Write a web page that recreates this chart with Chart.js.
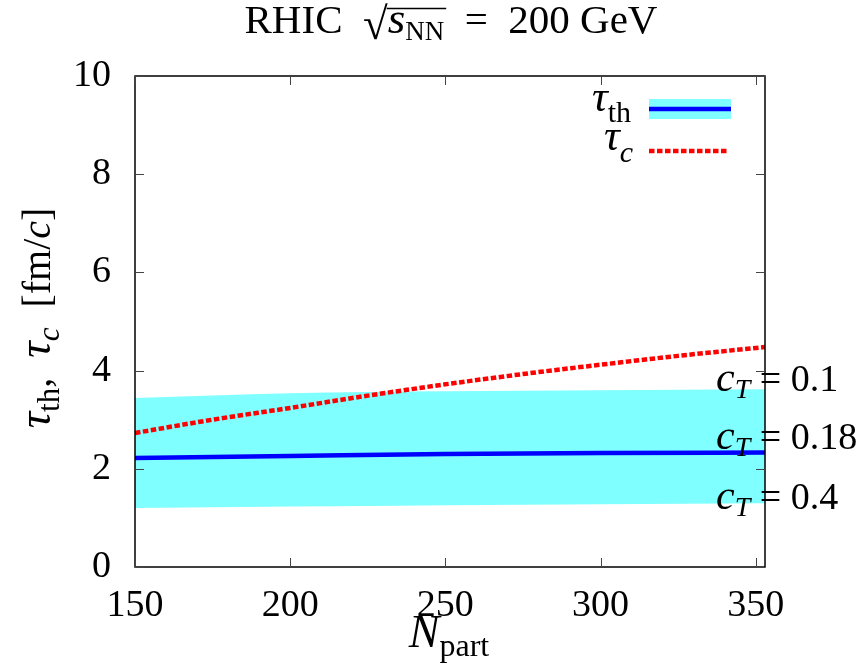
<!DOCTYPE html>
<html>
<head>
<meta charset="utf-8">
<script src="https://cdn.jsdelivr.net/npm/chart.js@4"></script>
<style>
  body { margin: 0; background: #fff; }
  #wrap { width: 862px; height: 663px; }
</style>
</head>
<body>
<div id="wrap"><canvas id="chart" width="862" height="663"></canvas></div>
<script>
// values
const nPart = [150, 200, 250, 300, 353];
const tauThLow = [1.20, 1.23, 1.26, 1.28, 1.30];   // c_T = 0.4
const tauThHigh = [3.44, 3.54, 3.58, 3.60, 3.62];  // c_T = 0.1
const tauTh = [2.22, 2.26, 2.30, 2.32, 2.33];      // c_T = 0.18
const nPartC = [150, 175, 200, 225, 250, 275, 300, 325, 353];
const tauC = [2.73, 3.00, 3.24, 3.49, 3.72, 3.93, 4.12, 4.30, 4.48];
const xTicks = [150, 200, 250, 300, 350];
const yTicks = [0, 2, 4, 6, 8, 10];
const cTValues = ["0.1", "0.18", "0.4"];

const SERIF = '"Liberation Serif", "DejaVu Serif", serif';
const CYAN = "#7fffff";
const pts = (xs, ys) => xs.map((x, i) => ({ x: x, y: ys[i] }));

// draw a row of text pieces: [text, fontSize, italic, dy]
function drawRich(ctx, parts, x, y, align) {
  let w = 0;
  parts.forEach(p => {
    ctx.font = (p[2] ? "italic " : "") + p[1] + "px " + SERIF;
    w += ctx.measureText(p[0]).width;
  });
  let cx = align === "center" ? x - w / 2 : align === "right" ? x - w : x;
  const xs = [];
  parts.forEach(p => {
    ctx.font = (p[2] ? "italic " : "") + p[1] + "px " + SERIF;
    xs.push(cx);
    ctx.fillText(p[0], cx, y + (p[3] || 0));
    cx += ctx.measureText(p[0]).width;
  });
  xs.push(cx);
  return xs;
}

const decor = {
  id: "decor",
  afterDraw(chart) {
    const ctx = chart.ctx;
    const a = chart.chartArea;
    const xs = chart.scales.x, ys = chart.scales.y;
    ctx.save();
    ctx.strokeStyle = "#000";
    ctx.fillStyle = "#000";
    ctx.lineWidth = 1.5;
    ctx.strokeRect(a.left, a.top, a.right - a.left, a.bottom - a.top);
    ctx.lineWidth = 1;
    ctx.strokeStyle = "#444";
    ctx.beginPath();
    xTicks.forEach(v => {
      const px = Math.round(xs.getPixelForValue(v)) + 0.5;
      ctx.moveTo(px, a.bottom); ctx.lineTo(px, a.bottom - 9);
      ctx.moveTo(px, a.top); ctx.lineTo(px, a.top + 9);
    });
    yTicks.forEach(v => {
      const py = Math.round(ys.getPixelForValue(v)) + 0.5;
      ctx.moveTo(a.left, py); ctx.lineTo(a.left + 9, py);
      ctx.moveTo(a.right, py); ctx.lineTo(a.right - 9, py);
    });
    ctx.stroke();

    ctx.textBaseline = "alphabetic";
    ctx.fillStyle = "#000";

    // title
    const t = drawRich(ctx, [
      ["RHIC  ", 41], ["\u221A", 45, false, 6], ["s", 45, true], ["NN", 27, false, 7],
      ["  =  200 GeV", 41]
    ], 451, 33, "center");
    ctx.lineWidth = 1.6;
    ctx.strokeStyle = "#000";
    ctx.beginPath();
    ctx.moveTo(t[2] - 1, 8.5); ctx.lineTo(t[4] + 2, 8.5);
    ctx.stroke();

    // x title
    drawRich(ctx, [["N", 46, true], ["part", 32, false, 9]], 449, 647, "center");

    // y title
    ctx.save();
    ctx.translate(50, 318);
    ctx.rotate(-Math.PI / 2);
    drawRich(ctx, [
      ["\u03C4", 46, true], ["th", 31, false, 9], [",  ", 40],
      ["\u03C4", 46, true], ["c", 31, true, 9], ["  [fm/", 40], ["c", 40, true], ["]", 40]
    ], 0, 0, "center");
    ctx.restore();

    // legend
    drawRich(ctx, [["\u03C4", 44, true], ["th", 30, false, 11]], 631, 111, "right");
    drawRich(ctx, [["\u03C4", 44, true], ["c", 30, true, 12]], 633, 150, "right");
    ctx.fillStyle = CYAN;
    ctx.fillRect(649, 99, 82, 20);
    ctx.strokeStyle = "#0000ff";
    ctx.lineWidth = 4.5;
    ctx.beginPath(); ctx.moveTo(649, 109); ctx.lineTo(731, 109); ctx.stroke();
    ctx.strokeStyle = "#ff0000";
    ctx.setLineDash([5.5, 2.5]);
    ctx.beginPath(); ctx.moveTo(649, 151); ctx.lineTo(729, 151); ctx.stroke();
    ctx.setLineDash([]);

    // c_T labels next to the band
    ctx.fillStyle = "#000";
    const yPos = [391, 449, 509];
    cTValues.forEach((v, i) => {
      drawRich(ctx, [["c", 42, true], ["T", 28, true, 7], [" = " + v, 38]], 716, yPos[i], "left");
    });
    ctx.restore();
  }
};

new Chart(document.getElementById("chart"), {
  type: "line",
  data: {
    datasets: [
      { label: "low", data: pts(nPart, tauThLow), borderWidth: 0, borderColor: "rgba(0,0,0,0)", pointRadius: 0, fill: false, cubicInterpolationMode: "monotone" },
      { label: "high", data: pts(nPart, tauThHigh), borderWidth: 0, borderColor: "rgba(0,0,0,0)", backgroundColor: CYAN, pointRadius: 0, fill: "-1", cubicInterpolationMode: "monotone" },
      { label: "tau_th", data: pts(nPart, tauTh), borderColor: "#0000ff", borderWidth: 4.5, pointRadius: 0, fill: false, cubicInterpolationMode: "monotone" },
      { label: "tau_c", data: pts(nPartC, tauC), borderColor: "#ff0000", borderWidth: 4.5, borderDash: [5.5, 2.5], pointRadius: 0, fill: false, cubicInterpolationMode: "monotone" }
    ]
  },
  options: {
    responsive: false,
    animation: false,
    layout: { padding: { top: 76, right: 97, left: 0, bottom: 0 } },
    plugins: {
      legend: { display: false },
      tooltip: { enabled: false },
      filler: { drawTime: "beforeDatasetsDraw" }
    },
    scales: {
      x: {
        type: "linear",
        min: 150,
        max: 353,
        afterBuildTicks: s => { s.ticks = xTicks.map(v => ({ value: v })); },
        afterFit: s => { s.height = 96; },
        grid: { display: false },
        border: { display: false },
        ticks: { color: "#000", font: { family: SERIF, size: 38 }, padding: 8, maxRotation: 0 }
      },
      y: {
        min: 0,
        max: 10,
        afterBuildTicks: s => { s.ticks = yTicks.map(v => ({ value: v })); },
        afterFit: s => { s.width = 135; },
        grid: { display: false },
        border: { display: false },
        ticks: { color: "#000", font: { family: SERIF, size: 38 }, padding: 16 }
      }
    }
  },
  plugins: [decor]
});
</script>
</body>
</html>
